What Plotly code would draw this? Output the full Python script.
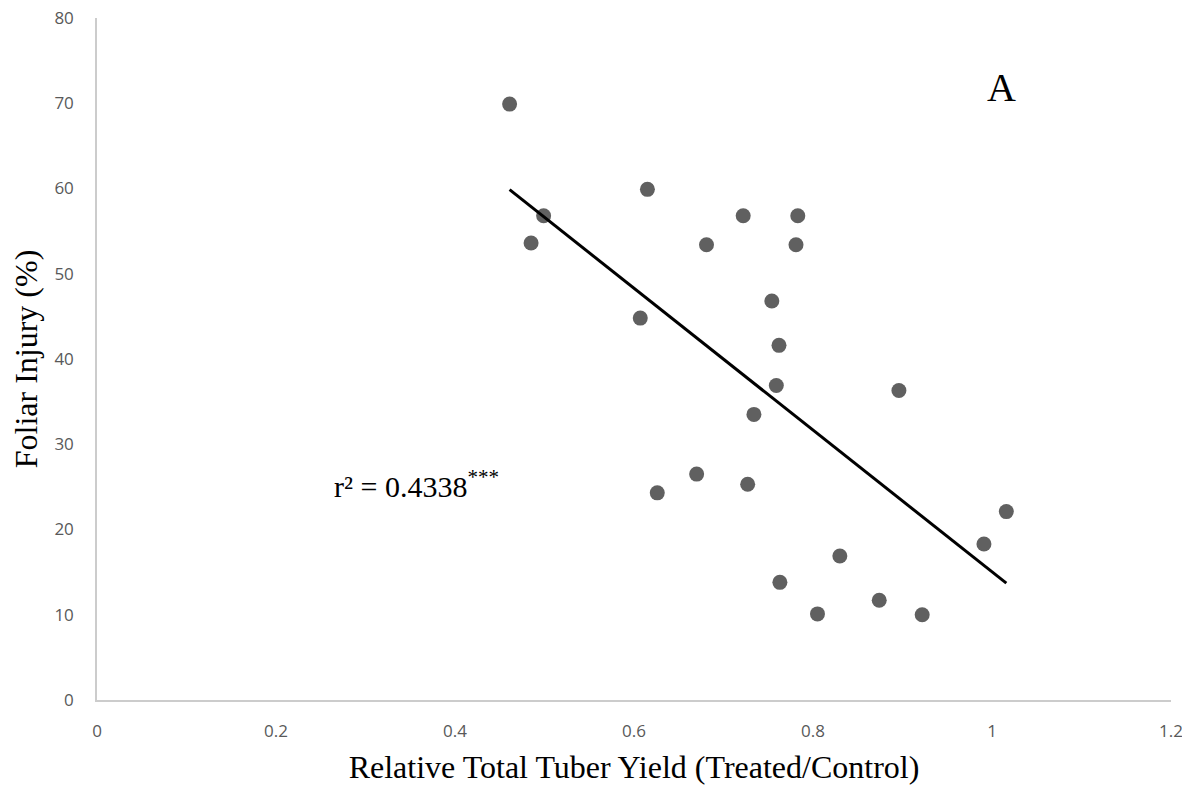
import numpy as np
import plotly.graph_objects as go

# Relative total tuber yield (treated/control) and foliar injury (%)
yield_rel = [0.461, 0.615, 0.499, 0.485, 0.681, 0.722, 0.783, 0.781,
             0.754, 0.607, 0.762, 0.759, 0.734, 0.670, 0.626, 0.727,
             0.896, 1.016, 0.991, 0.830, 0.763, 0.874, 0.805, 0.922]
injury = [69.9, 59.9, 56.8, 53.6, 53.4, 56.8, 56.8, 53.4,
          46.8, 44.8, 41.6, 36.9, 33.5, 26.5, 24.3, 25.3,
          36.3, 22.1, 18.3, 16.9, 13.8, 11.7, 10.1, 10.0]

x_ticks = [0, 0.2, 0.4, 0.6, 0.8, 1.0, 1.2]
x_tick_labels = ["0", "0.2", "0.4", "0.6", "0.8", "1", "1.2"]
y_ticks = [0, 10, 20, 30, 40, 50, 60, 70, 80]

xa = np.array(yield_rel)
ya = np.array(injury)
slope, intercept = np.polyfit(xa, ya, 1)
tx = np.array([xa.min(), xa.max()])
ty = slope * tx + intercept

fig = go.Figure()
fig.add_trace(go.Scatter(
    x=yield_rel, y=injury, mode="markers",
    marker=dict(size=15, color="#606060", line=dict(width=0)),
    showlegend=False, hoverinfo="skip"))
fig.add_trace(go.Scatter(
    x=tx, y=ty, mode="lines",
    line=dict(color="black", width=3),
    showlegend=False, hoverinfo="skip"))

fig.add_annotation(x=0.357, y=25.3, xref="x", yref="y", showarrow=False,
                   text="r² = 0.4338<sup>***</sup>",
                   font=dict(family="Liberation Serif", size=30, color="black"))
fig.add_annotation(x=1.011, y=71.8, xref="x", yref="y", showarrow=False,
                   text="A",
                   font=dict(family="Liberation Serif", size=40, color="black"))

axis_font = dict(family="Open Sans", size=17, color="#595959")
fig.update_layout(
    width=1182, height=783,
    margin=dict(l=89, r=19, t=10, b=91, autoexpand=False),
    paper_bgcolor="white", plot_bgcolor="white",
    xaxis=dict(range=[0, 1.2], tickvals=x_ticks, ticktext=x_tick_labels,
               showgrid=False, zeroline=False, showline=True,
               linecolor="#cccccc", linewidth=1.5, ticks="",
               tickfont=axis_font, ticklabelstandoff=15,
               ticklabeloverflow="allow", automargin=False,
               title=dict(text="Relative Total Tuber Yield (Treated/Control)",
                          font=dict(family="Liberation Serif", size=32, color="black"),
                          standoff=14)),
    yaxis=dict(range=[0, 80], tickvals=y_ticks,
               showgrid=False, zeroline=False, showline=True,
               linecolor="#cccccc", linewidth=1.5, ticks="",
               tickfont=axis_font, ticklabelstandoff=18,
               ticklabeloverflow="allow", automargin=False,
               title=dict(text="Foliar Injury (%)",
                          font=dict(family="Liberation Serif", size=32, color="black"),
                          standoff=8)),
)

fig.write_html("out.html")
